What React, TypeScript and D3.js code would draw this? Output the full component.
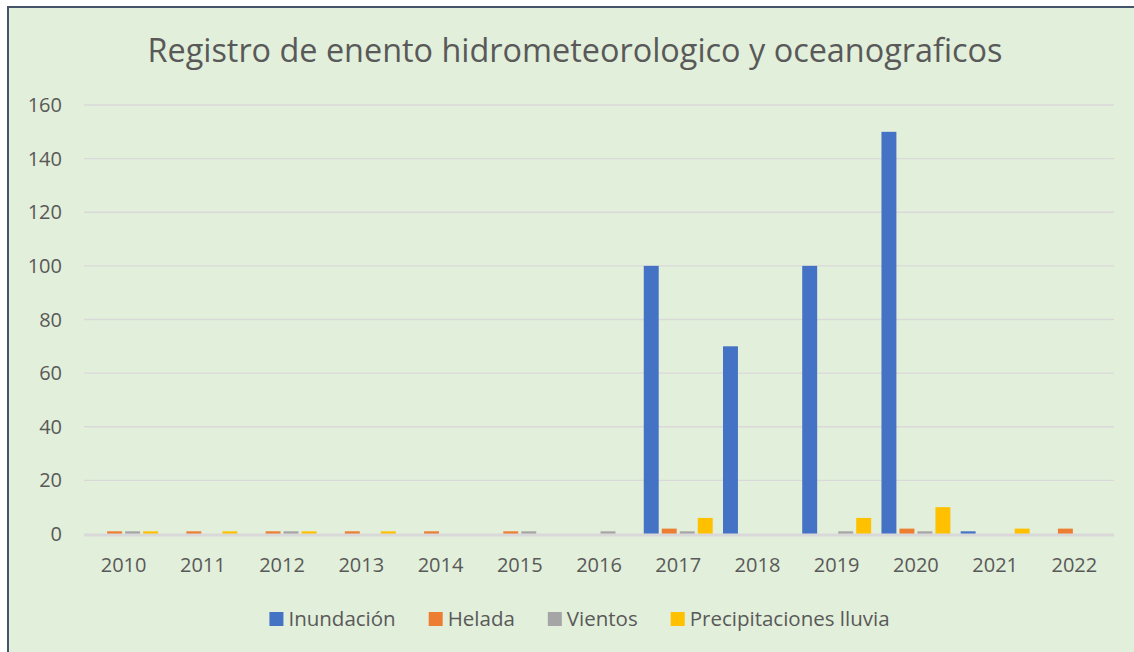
import * as d3 from "d3";

const years = ["2010", "2011", "2012", "2013", "2014", "2015", "2016", "2017", "2018", "2019", "2020", "2021", "2022"];
const seriesNames = ["Inundación", "Helada", "Vientos", "Precipitaciones lluvia"];
const inundacion = [0, 0, 0, 0, 0, 0, 0, 100, 70, 100, 150, 1, 0];
const helada = [1, 1, 1, 1, 1, 1, 0, 2, 0, 0, 2, 0, 2];
const vientos = [1, 0, 1, 0, 0, 1, 1, 1, 0, 1, 1, 0, 0];
const precipitaciones = [1, 1, 1, 1, 0, 0, 0, 6, 0, 6, 10, 2, 0];
const yTicks = [0, 20, 40, 60, 80, 100, 120, 140, 160];
const title = "Registro de enento hidrometeorologico y oceanograficos";

const COLORS = ["#4472C4", "#ED7D31", "#A5A5A5", "#FFC000"];
const FONT = "'Open Sans', sans-serif";
const TEXT_COLOR = "#595959";
const W = 1134;
const H = 652;

const PLOT = { left: 84, right: 1114, top: 105, bottom: 534 };
const LEGEND = { centerX: 579.5, y: 612, box: 14, boxGap: 5, itemGap: 33, fontSize: 20.5 };

function measure(text: string, font: string) {
  const ctx = document.createElement("canvas").getContext("2d")!;
  ctx.font = font;
  return ctx.measureText(text).width;
}

export default function App() {
  const values = [inundacion, helada, vientos, precipitaciones];

  const x = d3
    .scaleBand<string>()
    .domain(years)
    .range([PLOT.left, PLOT.right])
    .paddingInner(0.13)
    .paddingOuter(0.065);

  const xInner = d3
    .scaleBand<string>()
    .domain(seriesNames)
    .range([0, x.bandwidth()])
    .paddingInner(0.17);

  const y = d3.scaleLinear().domain([0, 160]).range([PLOT.bottom, PLOT.top]);

  // legend layout, centred
  const legendFont = `${LEGEND.fontSize}px ${FONT}`;
  const widths = seriesNames.map((s) => LEGEND.box + LEGEND.boxGap + measure(s, legendFont));
  const total = d3.sum(widths) + LEGEND.itemGap * (seriesNames.length - 1);
  let cursor = LEGEND.centerX - total / 2;
  const legendX = widths.map((w) => {
    const at = cursor;
    cursor += w + LEGEND.itemGap;
    return at;
  });

  return (
    <svg
      width={W}
      height={H}
      style={{ position: "absolute", left: 0, top: 0, background: "#fff" }}
      xmlns="http://www.w3.org/2000/svg"
    >
      <rect x={8} y={7} width={W + 20} height={H + 20} fill="#E2EFDA" stroke="#44546A" strokeWidth={2} />

      <text
        x={575}
        y={62}
        textAnchor="middle"
        fontSize={32.4}
        fontFamily={FONT}
        fill={TEXT_COLOR}
      >
        {title}
      </text>

      <g className="grid">
        {yTicks.map((t) => (
          <g key={t}>
            {t !== 0 && (
              <line x1={PLOT.left} x2={PLOT.right} y1={y(t)} y2={y(t)} stroke="#D9D9D9" strokeWidth={1.3} />
            )}
            <text
              x={62}
              y={y(t)}
              dy="0.35em"
              textAnchor="end"
              fontSize={20}
              fontFamily={FONT}
              fill={TEXT_COLOR}
            >
              {t}
            </text>
          </g>
        ))}
      </g>

      <g className="bars">
        {years.map((yr, i) => (
          <g key={yr} transform={`translate(${x(yr)},0)`}>
            {seriesNames.map((s, j) => {
              const v = values[j][i];
              if (!v) return null;
              return (
                <rect
                  key={s}
                  x={xInner(s)}
                  y={y(v)}
                  width={xInner.bandwidth()}
                  height={y(0) - y(v)}
                  fill={COLORS[j]}
                />
              );
            })}
          </g>
        ))}
      </g>

      <line x1={PLOT.left} x2={PLOT.right} y1={y(0) + 1} y2={y(0) + 1} stroke="#D9D9D9" strokeWidth={3} />

      <g className="x-axis">
        {years.map((yr) => (
          <text
            key={yr}
            x={x(yr)! + x.bandwidth() / 2}
            y={572}
            textAnchor="middle"
            fontSize={20}
            fontFamily={FONT}
            fill={TEXT_COLOR}
          >
            {yr}
          </text>
        ))}
      </g>

      <g className="legend">
        {seriesNames.map((s, i) => (
          <g key={s}>
            <rect x={legendX[i]} y={LEGEND.y} width={LEGEND.box} height={LEGEND.box} fill={COLORS[i]} />
            <text
              x={legendX[i] + LEGEND.box + LEGEND.boxGap}
              y={LEGEND.y + LEGEND.box / 2}
              dy="0.35em"
              fontSize={LEGEND.fontSize}
              fontFamily={FONT}
              fill={TEXT_COLOR}
            >
              {s}
            </text>
          </g>
        ))}
      </g>
    </svg>
  );
}
